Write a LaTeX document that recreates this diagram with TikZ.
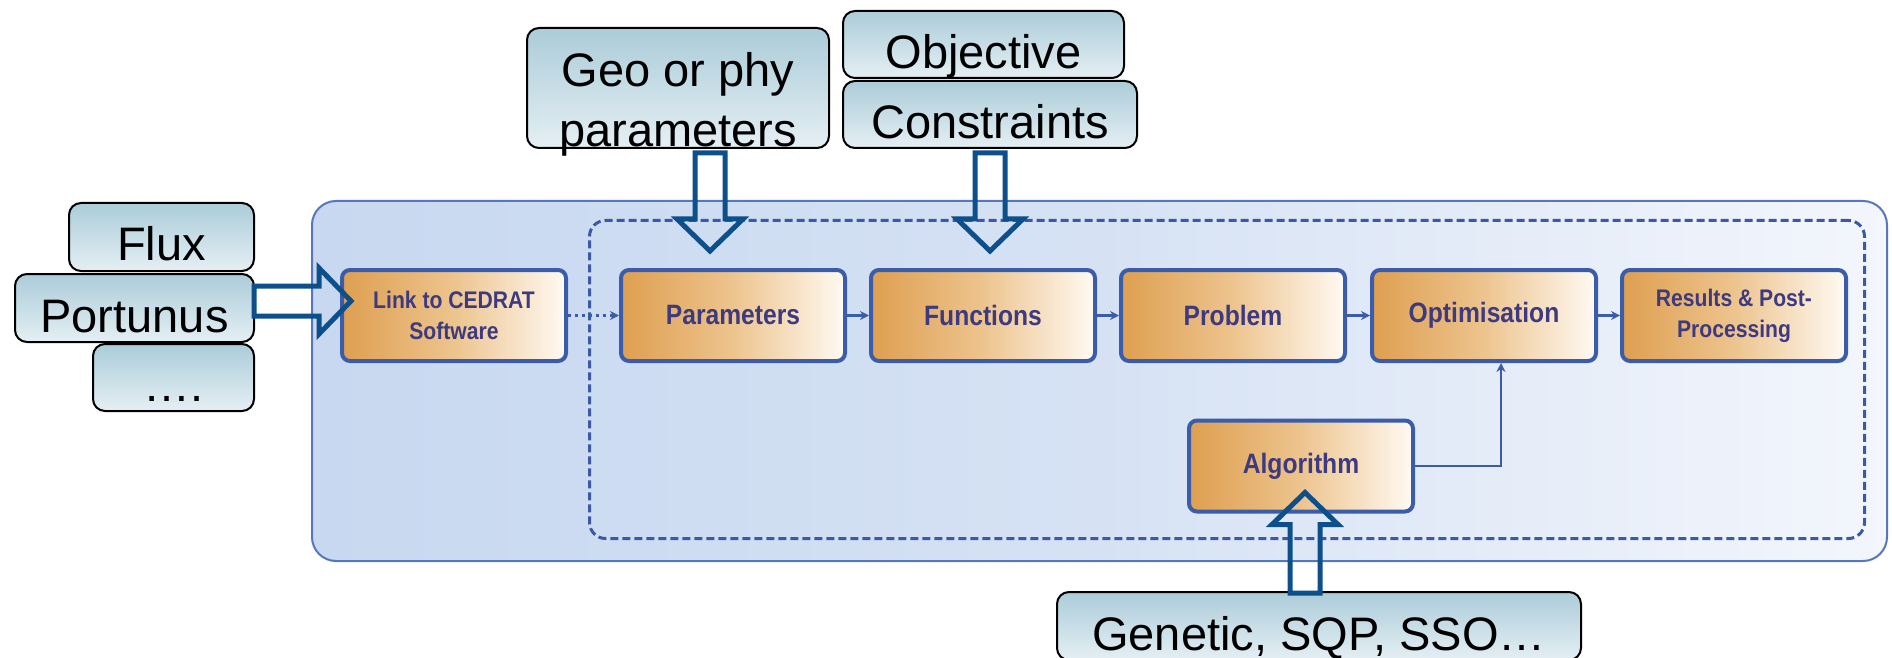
\documentclass[tikz,border=0pt]{standalone}
\usepackage{fontspec}
\setmainfont{Liberation Sans}
\newfontfamily\condfont[FakeStretch=0.88]{Liberation Sans}
\usetikzlibrary{calc,arrows.meta}
\definecolor{panelL}{HTML}{C7D8F0}
\definecolor{panelM}{HTML}{D6E2F4}
\definecolor{panelR}{HTML}{F3F6FC}
\definecolor{panelB}{HTML}{5677BC}
\definecolor{dashB}{HTML}{3A5AA6}
\definecolor{boxB}{HTML}{3B5CA9}
\definecolor{orL}{HTML}{DE9F50}
\definecolor{orM}{HTML}{EDC48E}
\definecolor{orR}{HTML}{FFFAF3}
\definecolor{txtB}{HTML}{3D3A7F}
\definecolor{tagT}{HTML}{ABCCD9}
\definecolor{tagB}{HTML}{E5EFF4}
\definecolor{barB}{HTML}{0C4F8B}
\newcommand\blockarr[2]{%
  \path ($(#2)!16pt!(#1)$) coordinate (hb);
  \draw[barrow] ($(#1)!7.5pt!90:(#2)$) -- ($(hb)!7.5pt!90:(#2)$) -- ($(hb)!16.5pt!90:(#2)$) -- (#2)
    -- ($(hb)!16.5pt!-90:(#2)$) -- ($(hb)!7.5pt!-90:(#2)$) -- ($(#1)!7.5pt!-90:(#2)$) -- cycle;}
\begin{document}
\begin{tikzpicture}[x=0.5pt,y=-0.5pt,
  panelbox/.style={draw=panelB, line width=1pt, rounded corners=12pt, left color=panelL, right color=panelR, middle color=panelM, inner sep=0pt},
  dashbox/.style={draw=dashB, line width=1.5pt, dash pattern=on 4pt off 2pt, rounded corners=8pt, inner sep=0pt},
  stage/.style={draw=boxB, line width=2pt, rounded corners=4pt, left color=orL, right color=orR, middle color=orM, minimum width=112pt, minimum height=45.5pt, inner sep=0pt, align=center, text=txtB, font=\condfont\bfseries\fontsize{14}{15}\selectfont},
  stagesmall/.style={font=\condfont\bfseries\fontsize{12}{15.5}\selectfont},
  tag/.style={draw=black, line width=1pt, rounded corners=6pt, top color=tagT, bottom color=tagB, inner sep=0pt, font=\fontsize{23.5}{28}\selectfont, text height=24pt, text depth=0pt},
  tagtext/.style={inner sep=0pt, font=\fontsize{23.5}{28}\selectfont},
  flow/.style={draw=boxB, line width=1.5pt, -{Stealth[length=4.5pt,width=4.5pt]}},
  barrow/.style={draw=barB, line width=2.5pt, line join=miter},
]
\useasboundingbox (0,0) rectangle (1892,658);

% container panels
\node[panelbox, minimum width=787.5pt, minimum height=180pt] (panel) at (1099.5,381) {};
\node[dashbox, minimum width=637.5pt, minimum height=159pt] (inner) at (1227,379.5) {};

% stages
\node[stage, stagesmall] (link) at (454,315.5) {Link to CEDRAT\\Software};
\node[stage] (params) at (733,315.5) {Parameters};
\node[stage] (funcs) at (983,315.5) {Functions};
\node[stage] (problem) at (1233,315.5) {Problem};
\node[stage] (optim) at (1484,315.5) {Optimisation};
\node[stage, stagesmall] (results) at (1734,315.5) {Results \& Post-\\Processing};
\node[stage] (algo) at (1301,466) {Algorithm};

% connectors
\draw[flow, dash pattern=on 1.5pt off 2pt] (link.east) -- (params.west);
\draw[flow] (params.east) -- (funcs.west);
\draw[flow] (funcs.east) -- (problem.west);
\draw[flow] (problem.east) -- (optim.west);
\draw[flow] (optim.east) -- (results.west);
\draw[flow, line width=1pt] (algo.east) -| ($(optim.south)+(17,0)$);

% input tags
\node[tag, minimum width=92.5pt, minimum height=34pt] (flux) at (161.5,237) {Flux};
\node[tag, minimum width=119.5pt, minimum height=34pt] (portunus) at (134.5,308) {Portunus};
\node[tag, minimum width=80.5pt, minimum height=33.5pt] (dots) at (173.5,377.5) {….};
\node[tag, minimum width=151pt, minimum height=60pt] (geo) at (678,88) {};
\node[tagtext, anchor=base] (geo1) at (678,87) {Geo or phy};
\node[tagtext, anchor=base] (geo2) at (678,147) {parameters};
\node[tag, minimum width=140.5pt, minimum height=33.5pt] (objective) at (983.5,44.5) {Objective};
\node[tag, minimum width=147pt, minimum height=33.5pt] (constraints) at (990,114.5) {Constraints};
\node[tag, minimum width=262pt, minimum height=34pt] (genetic) at (1319,626) {Genetic, SQP, SSO…};

% block arrows
\coordinate (la0) at ($(portunus.east)+(-1,-7)$);
\coordinate (la1) at ($(link.west)+(11,-14.5)$);
\blockarr{la0}{la1}
\coordinate (ga0) at ($(geo.south)+(32,4)$);
\coordinate (ga1) at ($(params.north)+(-23,-17)$);
\blockarr{ga0}{ga1}
\coordinate (ca0) at ($(constraints.south)+(0,4)$);
\coordinate (ca1) at ($(funcs.north)+(7,-17)$);
\blockarr{ca0}{ca1}
\coordinate (ea0) at ($(genetic.north)+(-14,2)$);
\coordinate (ea1) at ($(algo.south)+(4,-21)$);
\blockarr{ea0}{ea1}
\end{tikzpicture}
\end{document}
